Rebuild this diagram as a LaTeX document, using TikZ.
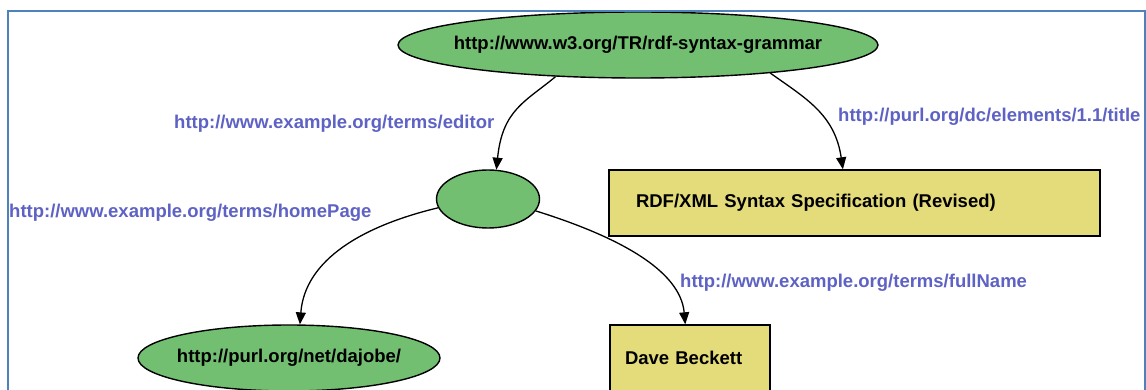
\documentclass[tikz,border=0pt]{standalone}
\usepackage{color,graphicx}
\usepackage{amsmath,tikz}
\usepackage{fontspec}
\setmainfont{Liberation Sans}
\usetikzlibrary{shapes.geometric,arrows.meta}
\definecolor{resgreen}{RGB}{114,191,114}
\definecolor{lityellow}{RGB}{228,220,122}
\definecolor{propblue}{RGB}{94,98,196}
\definecolor{frameblue}{RGB}{79,129,189}

\begin{document}
\begin{tikzpicture}[x=1pt,y=-1pt,
  font=\fontsize{18.5}{22}\selectfont\bfseries,
  res/.style={ellipse,draw=black,line width=1.4pt,fill=resgreen,inner xsep=-15pt,inner ysep=0pt},
  lit/.style={rectangle,draw=black,line width=1.4pt,fill=lityellow,align=left,minimum height=66pt},
  prop/.style={text=propblue,anchor=west,inner sep=0pt},
  arc/.style={draw=black,line width=1.3pt,-{Triangle[length=12pt,width=10pt]}}]

\useasboundingbox (0,0) rectangle (1146,390);

\node[res,minimum width=480pt,minimum height=66pt] (doc) at (638,45)
{http://www.w3.org/TR/rdf-syntax-grammar};
\node[res,minimum width=103pt,minimum height=58pt] (editor) at (488,199) {};
\node[res,minimum width=302pt,minimum height=66pt] (home) at (289,358)
{http://purl.org/net/dajobe/};
\node[lit,text width=437pt,inner xsep=27pt] (title) at (854.5,203)
{RDF/XML Syntax Specification (Revised)};
\node[lit,text width=130pt,inner xsep=15pt] (name) at (690,358)
{Dave Beckett};

\node[prop] (peditor) at (174,124) {http://www.example.org/terms/editor};
\node[prop] (ptitle) at (838,117) {http://purl.org/dc/elements/1.1/title};
\node[prop] (phome) at (9,213) {http://www.example.org/terms/homePage};
\node[prop] (pname) at (680,283) {http://www.example.org/terms/fullName};

\draw[arc] (doc.201) .. controls +(-30,25) and +(6,-60) .. (editor.74);
\draw[arc] (doc.-12) .. controls +(35,25) and +(-8,-55) .. (title.109);
\draw[arc] (editor.190) .. controls +(-75,18) and +(5,-65) .. (home.72);
\draw[arc] (editor.346) .. controls +(80,25) and +(-5,-55) .. (name.98);

\draw[frameblue,line width=2pt] (8,390) -- (8,11) -- (1145,11) -- (1145,390);
\end{tikzpicture}
\end{document}
